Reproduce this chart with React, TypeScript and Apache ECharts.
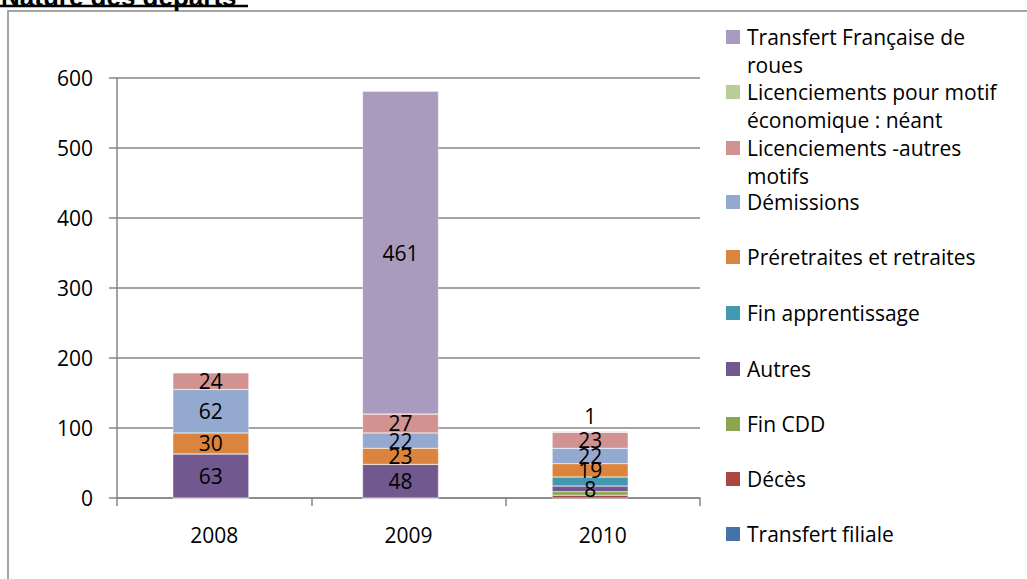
import React, { useEffect, useRef } from "react";
import * as echarts from "echarts";

const categories = ["2008", "2009", "2010"];
const yMin = 0;
const yMax = 600;
const yInterval = 100;

// stacked from bottom to top
const transfertFiliale = [0, 0, 0];
const deces = [0, 0, 4];
const finCDD = [0, 0, 5];
const autres = [63, 48, 8];
const finApprentissage = [0, 0, 13];
const preretraites = [30, 23, 19];
const demissions = [62, 22, 22];
const licenciementsAutres = [24, 27, 23];
const licenciementsEco = [0, 0, 0];
const transfertFrancaise = [0, 461, 1];

const seriesNames = [
  "Transfert filiale",
  "Décès",
  "Fin CDD",
  "Autres",
  "Fin apprentissage",
  "Préretraites et retraites",
  "Démissions",
  "Licenciements -autres motifs",
  "Licenciements pour motif économique : néant",
  "Transfert Française de roues",
];
const legendTexts = [
  "Transfert filiale",
  "Décès",
  "Fin CDD",
  "Autres",
  "Fin apprentissage",
  "Préretraites et retraites",
  "Démissions",
  "Licenciements -autres\nmotifs",
  "Licenciements pour motif\néconomique : néant",
  "Transfert Française de\nroues",
];
const seriesValues = [
  transfertFiliale,
  deces,
  finCDD,
  autres,
  finApprentissage,
  preretraites,
  demissions,
  licenciementsAutres,
  licenciementsEco,
  transfertFrancaise,
];
const colors = [
  "#4572A7",
  "#AA4643",
  "#89A54E",
  "#71588F",
  "#4198AF",
  "#DB843D",
  "#93A9CF",
  "#D19392",
  "#B9CD96",
  "#A99BBD",
];
const showLabels = [false, false, false, true, false, true, true, true, false, true];

const FONT = '"Open Sans", sans-serif';
const GRAY = "#868686";

export default function App() {
  const ref = useRef<HTMLDivElement>(null);
  useEffect(() => {
    if (!ref.current) return;
    const chart = echarts.init(ref.current, null, { renderer: "svg" });

    const series = seriesNames.map((name, si) => ({
      name,
      type: "bar",
      stack: "total",
      xAxisIndex: 1,
      yAxisIndex: 1,
      barWidth: 76,
      itemStyle: { color: colors[si], borderColor: "rgba(255,255,255,0.6)", borderWidth: 0.5 },
      label: {
        show: showLabels[si],
        position: "inside",
        color: "#000",
        fontFamily: FONT,
        fontSize: 21,
        formatter: (p: any) => (p.value > 0 ? String(p.value) : ""),
      },
      data: seriesValues[si].map((v) =>
        showLabels[si] && v > 0 && v < 5
          ? { value: v, label: { position: "top", distance: 5 } }
          : v
      ),
    }));

    // legend (top to bottom = reverse of stack)
    const legendCenters = [37, 92, 148, 202, 257, 313, 369, 424, 479, 534];
    const legendGraphics: any[] = [];
    for (let k = 0; k < seriesNames.length; k++) {
      const si = seriesNames.length - 1 - k;
      const cy = legendCenters[k];
      legendGraphics.push({
        type: "rect",
        shape: { x: 726, y: cy - 7, width: 14, height: 14 },
        style: { fill: colors[si] },
      });
      legendGraphics.push({
        type: "text",
        x: 747,
        y: cy - 14,
        style: {
          text: legendTexts[si],
          fill: "#000",
          font: `21px ${FONT}`,
          lineHeight: 28,
          verticalAlign: "top",
          align: "left",
        },
      });
    }

    chart.setOption({
      animation: false,
      backgroundColor: "#fff",
      grid: [
        { left: 117, right: 327, top: 78, bottom: 81 },
        { left: 116, right: 342, top: 78, bottom: 81 },
      ],
      xAxis: [
        {
          type: "category",
          gridIndex: 0,
          data: categories,
          axisLine: { lineStyle: { color: GRAY, width: 1.5 } },
          axisTick: { show: true, length: 8, lineStyle: { color: GRAY, width: 1.5 } },
          axisLabel: { color: "#000", fontFamily: FONT, fontSize: 21, margin: 26 },
        },
        {
          type: "category",
          gridIndex: 1,
          data: categories,
          show: false,
        },
      ],
      yAxis: [
        {
          type: "value",
          gridIndex: 0,
          min: yMin,
          max: yMax,
          interval: yInterval,
          axisLine: { show: true, lineStyle: { color: GRAY, width: 1.5 } },
          axisTick: { show: true, length: 8, lineStyle: { color: GRAY, width: 1.5 } },
          axisLabel: { color: "#000", fontFamily: FONT, fontSize: 21, margin: 24 },
          splitLine: { show: true, lineStyle: { color: GRAY, width: 1.5 } },
        },
        {
          type: "value",
          gridIndex: 1,
          min: yMin,
          max: yMax,
          interval: yInterval,
          show: false,
          splitLine: { show: false },
        },
      ],
      series,
      graphic: [
        {
          type: "rect",
          shape: { x: 8, y: 11, width: 1200, height: 800 },
          style: { fill: "none", stroke: GRAY, lineWidth: 1.5 },
          z: -1,
        },
        {
          type: "text",
          x: 1,
          y: 10,
          style: {
            text: "Nature des départs",
            fill: "#000",
            font: 'bold 26px "Liberation Sans", Arial, sans-serif',
            verticalAlign: "bottom",
            align: "left",
          },
        },
        {
          type: "line",
          shape: { x1: 0, y1: 6, x2: 248, y2: 6 },
          style: { stroke: "#000", lineWidth: 2.5 },
        },
        ...legendGraphics,
      ],
    });
    return () => chart.dispose();
  }, []);
  return (
    <div
      ref={ref}
      style={{ position: "absolute", left: 0, top: 0, width: 1027, height: 579, background: "#fff" }}
    />
  );
}
